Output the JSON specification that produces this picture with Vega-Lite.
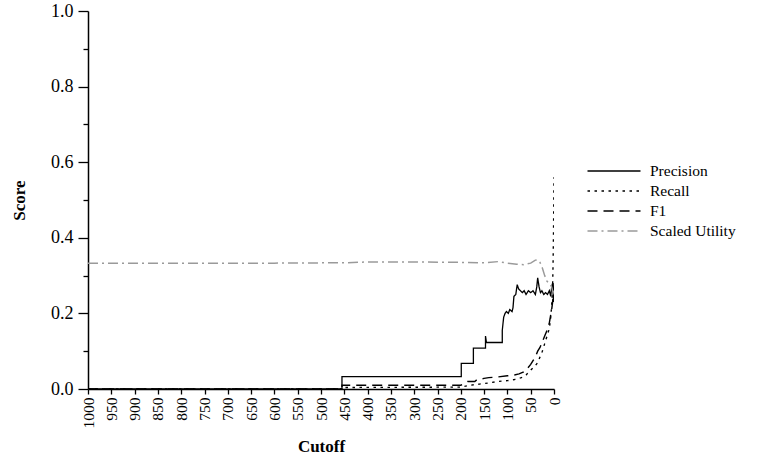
{
  "$schema": "https://vega.github.io/schema/vega-lite/v6.json",
  "width": 466,
  "height": 378,
  "autosize": "none",
  "padding": {"left": 88, "top": 11, "right": 204, "bottom": 74},
  "background": "white",
  "config": {
    "view": {"stroke": null},
    "font": "Liberation Serif",
    "axis": {"domainColor": "black", "tickColor": "black", "labelColor": "black", "titleColor": "black", "domainWidth": 1.5, "tickWidth": 1.3, "grid": false, "labelFont": "Liberation Serif", "titleFont": "Liberation Serif"},
    "legend": {"labelFont": "Liberation Serif"}
  },
  "data": {
    "values": [
      {"cutoff": 1000, "series": "Precision", "score": 0},
      {"cutoff": 455, "series": "Precision", "score": 0},
      {"cutoff": 455, "series": "Precision", "score": 0.033},
      {"cutoff": 199, "series": "Precision", "score": 0.033},
      {"cutoff": 199, "series": "Precision", "score": 0.068},
      {"cutoff": 173, "series": "Precision", "score": 0.068},
      {"cutoff": 173, "series": "Precision", "score": 0.108},
      {"cutoff": 147, "series": "Precision", "score": 0.108},
      {"cutoff": 147, "series": "Precision", "score": 0.14},
      {"cutoff": 145, "series": "Precision", "score": 0.123},
      {"cutoff": 111, "series": "Precision", "score": 0.123},
      {"cutoff": 111, "series": "Precision", "score": 0.155},
      {"cutoff": 108, "series": "Precision", "score": 0.19},
      {"cutoff": 105, "series": "Precision", "score": 0.2},
      {"cutoff": 102, "series": "Precision", "score": 0.205},
      {"cutoff": 98, "series": "Precision", "score": 0.2},
      {"cutoff": 95, "series": "Precision", "score": 0.21},
      {"cutoff": 90, "series": "Precision", "score": 0.205},
      {"cutoff": 88, "series": "Precision", "score": 0.215},
      {"cutoff": 86, "series": "Precision", "score": 0.245},
      {"cutoff": 82, "series": "Precision", "score": 0.25},
      {"cutoff": 79, "series": "Precision", "score": 0.276},
      {"cutoff": 76, "series": "Precision", "score": 0.265},
      {"cutoff": 72, "series": "Precision", "score": 0.26},
      {"cutoff": 68, "series": "Precision", "score": 0.255},
      {"cutoff": 64, "series": "Precision", "score": 0.26},
      {"cutoff": 60, "series": "Precision", "score": 0.25},
      {"cutoff": 55, "series": "Precision", "score": 0.26},
      {"cutoff": 50, "series": "Precision", "score": 0.255},
      {"cutoff": 45, "series": "Precision", "score": 0.26},
      {"cutoff": 40, "series": "Precision", "score": 0.25},
      {"cutoff": 37, "series": "Precision", "score": 0.27},
      {"cutoff": 35, "series": "Precision", "score": 0.294},
      {"cutoff": 32, "series": "Precision", "score": 0.27},
      {"cutoff": 29, "series": "Precision", "score": 0.255},
      {"cutoff": 26, "series": "Precision", "score": 0.26},
      {"cutoff": 22, "series": "Precision", "score": 0.25},
      {"cutoff": 18, "series": "Precision", "score": 0.255},
      {"cutoff": 14, "series": "Precision", "score": 0.25},
      {"cutoff": 10, "series": "Precision", "score": 0.26},
      {"cutoff": 7, "series": "Precision", "score": 0.245},
      {"cutoff": 5, "series": "Precision", "score": 0.27},
      {"cutoff": 3, "series": "Precision", "score": 0.28},
      {"cutoff": 2, "series": "Precision", "score": 0.25},
      {"cutoff": 1, "series": "Precision", "score": 0.23},
      {"cutoff": 0, "series": "Precision", "score": 0.25},

      {"cutoff": 1000, "series": "Recall", "score": 0},
      {"cutoff": 455, "series": "Recall", "score": 0},
      {"cutoff": 455, "series": "Recall", "score": 0.004},
      {"cutoff": 200, "series": "Recall", "score": 0.005},
      {"cutoff": 180, "series": "Recall", "score": 0.01},
      {"cutoff": 160, "series": "Recall", "score": 0.013},
      {"cutoff": 140, "series": "Recall", "score": 0.016},
      {"cutoff": 120, "series": "Recall", "score": 0.02},
      {"cutoff": 100, "series": "Recall", "score": 0.022},
      {"cutoff": 85, "series": "Recall", "score": 0.025},
      {"cutoff": 70, "series": "Recall", "score": 0.03},
      {"cutoff": 60, "series": "Recall", "score": 0.037},
      {"cutoff": 50, "series": "Recall", "score": 0.05},
      {"cutoff": 40, "series": "Recall", "score": 0.062},
      {"cutoff": 35, "series": "Recall", "score": 0.07},
      {"cutoff": 30, "series": "Recall", "score": 0.085},
      {"cutoff": 25, "series": "Recall", "score": 0.1},
      {"cutoff": 20, "series": "Recall", "score": 0.12},
      {"cutoff": 15, "series": "Recall", "score": 0.14},
      {"cutoff": 10, "series": "Recall", "score": 0.16},
      {"cutoff": 7, "series": "Recall", "score": 0.19},
      {"cutoff": 5, "series": "Recall", "score": 0.22},
      {"cutoff": 3, "series": "Recall", "score": 0.27},
      {"cutoff": 2, "series": "Recall", "score": 0.33},
      {"cutoff": 1, "series": "Recall", "score": 0.42},
      {"cutoff": 0, "series": "Recall", "score": 0.56},

      {"cutoff": 1000, "series": "F1", "score": 0},
      {"cutoff": 455, "series": "F1", "score": 0},
      {"cutoff": 455, "series": "F1", "score": 0.01},
      {"cutoff": 200, "series": "F1", "score": 0.01},
      {"cutoff": 185, "series": "F1", "score": 0.02},
      {"cutoff": 170, "series": "F1", "score": 0.02},
      {"cutoff": 165, "series": "F1", "score": 0.025},
      {"cutoff": 150, "series": "F1", "score": 0.028},
      {"cutoff": 140, "series": "F1", "score": 0.03},
      {"cutoff": 120, "series": "F1", "score": 0.032},
      {"cutoff": 100, "series": "F1", "score": 0.035},
      {"cutoff": 85, "series": "F1", "score": 0.037},
      {"cutoff": 75, "series": "F1", "score": 0.04},
      {"cutoff": 65, "series": "F1", "score": 0.045},
      {"cutoff": 60, "series": "F1", "score": 0.05},
      {"cutoff": 50, "series": "F1", "score": 0.065},
      {"cutoff": 45, "series": "F1", "score": 0.075},
      {"cutoff": 40, "series": "F1", "score": 0.085},
      {"cutoff": 35, "series": "F1", "score": 0.1},
      {"cutoff": 30, "series": "F1", "score": 0.11},
      {"cutoff": 25, "series": "F1", "score": 0.125},
      {"cutoff": 20, "series": "F1", "score": 0.14},
      {"cutoff": 15, "series": "F1", "score": 0.155},
      {"cutoff": 10, "series": "F1", "score": 0.175},
      {"cutoff": 5, "series": "F1", "score": 0.21},
      {"cutoff": 3, "series": "F1", "score": 0.23},
      {"cutoff": 1, "series": "F1", "score": 0.26},
      {"cutoff": 0, "series": "F1", "score": 0.28},

      {"cutoff": 1000, "series": "Scaled Utility", "score": 0.333},
      {"cutoff": 800, "series": "Scaled Utility", "score": 0.333},
      {"cutoff": 600, "series": "Scaled Utility", "score": 0.333},
      {"cutoff": 450, "series": "Scaled Utility", "score": 0.334},
      {"cutoff": 400, "series": "Scaled Utility", "score": 0.336},
      {"cutoff": 300, "series": "Scaled Utility", "score": 0.336},
      {"cutoff": 200, "series": "Scaled Utility", "score": 0.335},
      {"cutoff": 150, "series": "Scaled Utility", "score": 0.334},
      {"cutoff": 120, "series": "Scaled Utility", "score": 0.337},
      {"cutoff": 100, "series": "Scaled Utility", "score": 0.333},
      {"cutoff": 80, "series": "Scaled Utility", "score": 0.33},
      {"cutoff": 65, "series": "Scaled Utility", "score": 0.329},
      {"cutoff": 50, "series": "Scaled Utility", "score": 0.333},
      {"cutoff": 40, "series": "Scaled Utility", "score": 0.341},
      {"cutoff": 35, "series": "Scaled Utility", "score": 0.342},
      {"cutoff": 30, "series": "Scaled Utility", "score": 0.335},
      {"cutoff": 25, "series": "Scaled Utility", "score": 0.32},
      {"cutoff": 20, "series": "Scaled Utility", "score": 0.3},
      {"cutoff": 15, "series": "Scaled Utility", "score": 0.285},
      {"cutoff": 10, "series": "Scaled Utility", "score": 0.28},
      {"cutoff": 5, "series": "Scaled Utility", "score": 0.27},
      {"cutoff": 2, "series": "Scaled Utility", "score": 0.255},
      {"cutoff": 0, "series": "Scaled Utility", "score": 0.26}
    ]
  },
  "mark": {"type": "line", "clip": true},
  "encoding": {
    "x": {
      "field": "cutoff", "type": "quantitative",
      "scale": {"domain": [0, 1000], "reverse": true, "nice": false},
      "axis": {
        "values": [0, 50, 100, 150, 200, 250, 300, 350, 400, 450, 500, 550, 600, 650, 700, 750, 800, 850, 900, 950, 1000],
        "format": "d",
        "labelAngle": -90, "labelFontSize": 15.5, "tickSize": 5, "labelPadding": 3,
        "title": "Cutoff", "titleFontSize": 17, "titleFontWeight": "bold", "titlePadding": 10
      }
    },
    "y": {
      "field": "score", "type": "quantitative",
      "scale": {"domain": [0, 1], "nice": false},
      "axis": {
        "values": [0, 0.1, 0.2, 0.3, 0.4, 0.5, 0.6, 0.7, 0.8, 0.9, 1],
        "labelExpr": "round(datum.value*10)%2==0 ? format(datum.value,'.1f') : ''",
        "tickSize": {"condition": {"test": "round(datum.value*10)%2==0", "value": 10}, "value": 5},
        "labelFontSize": 18, "labelPadding": 5,
        "title": "Score", "titleFontSize": 17, "titleFontWeight": "bold", "titlePadding": 22
      }
    },
    "color": {
      "field": "series", "type": "nominal",
      "scale": {"domain": ["Precision", "Recall", "F1", "Scaled Utility"], "range": ["black", "black", "black", "#9a9a9a"]},
      "legend": {
        "orient": "none", "legendX": 515, "legendY": 149, "title": null, "padding": 0,
        "symbolType": "M-2.65,0H2.65", "symbolSize": 400, "labelFontSize": 15.5, "labelColor": "black", "labelOffset": 25, "rowPadding": 0
      }
    },
    "strokeDash": {
      "field": "series", "type": "nominal",
      "scale": {"domain": ["Precision", "Recall", "F1", "Scaled Utility"], "range": [[1, 0], [2.5, 4.5], [10, 6], [10, 4, 2, 4]]}
    },
    "strokeWidth": {
      "field": "series", "type": "nominal",
      "scale": {"domain": ["Precision", "Recall", "F1", "Scaled Utility"], "range": [1.3, 1.5, 2.8, 1.2]}
    },
    "order": {"value": null}
  }
}
